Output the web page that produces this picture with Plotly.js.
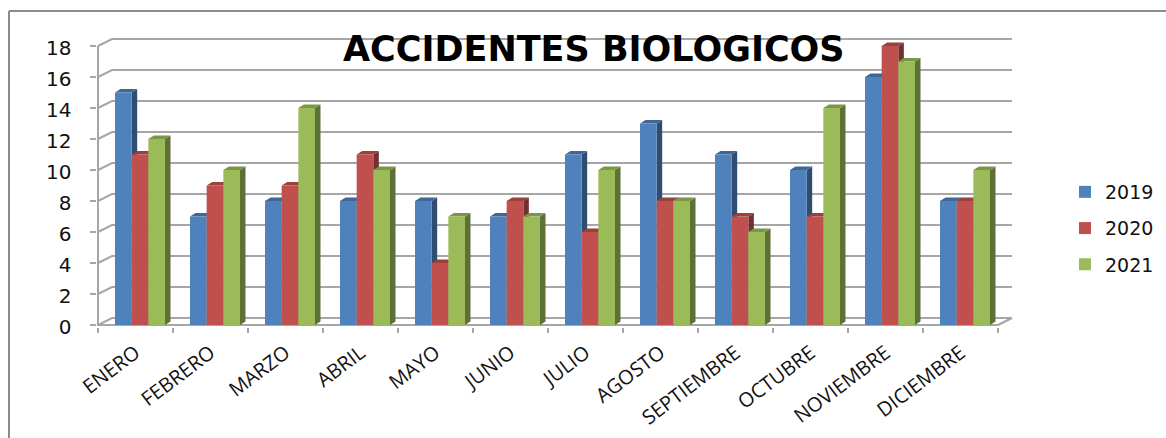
<!DOCTYPE html>
<html>
<head>
<meta charset="utf-8">
<script src="https://cdn.plot.ly/plotly-3.0.1.min.js"></script>
<style>html,body{margin:0;padding:0;background:#fff;overflow:hidden}#chart{width:1166px;height:438px}</style>
</head>
<body>
<div id="chart"></div>
<script>
const months = ["ENERO","FEBRERO","MARZO","ABRIL","MAYO","JUNIO","JULIO","AGOSTO","SEPTIEMBRE","OCTUBRE","NOVIEMBRE","DICIEMBRE"];
const v2019 = [15,7,8,8,8,7,11,13,11,10,16,8];
const v2020 = [11,9,9,11,4,8,6,8,7,7,18,8];
const v2021 = [12,10,14,10,7,7,10,8,6,14,17,10];
const seriesNames = ["2019","2020","2021"];
const yTicks = [0,2,4,6,8,10,12,14,16,18];

const W = 1166, H = 438;
const pxLeft = 98, pxRight = 998, pxTop = 46, pxBase = 325;
const unitX = (pxRight - pxLeft) / months.length;
const unitY = (pxBase - pxTop) / 18;
const frontColors = ["#4F81BD","#C0504D","#9BBB59"];
const topColors = ["#3F6797","#9A403D","#7C9647"];
const sideColors = ["#2F4D71","#733030","#5D7035"];
const gridColor = "#A6A6A6";

const wallDX = 14 / unitX, wallDY = 7 / unitY;
const depthDX = 5.5 / unitX, depthDY = 3.5 / unitY;
const barShift = 4.5 / unitX;
const barW = 16.67 / unitX;
const padX = 2 / unitX, padY = 2 / unitY;
const padL = 1.5 / unitX, padB = 1.5 / unitY;
const xMin = -0.5 - padL, xMax = 11.5 + wallDX + padX;
const yMin = -padB, yMax = 18 + wallDY + padY;

function polyTrace(xs, ys, color, name) {
  return {type:"scatter", mode:"lines", x:xs, y:ys, xaxis:"x2", yaxis:"y", fill:"toself", fillcolor:color,
    line:{width:0, color:color}, showlegend:false, hoverinfo:"skip", name:name};
}

// keeps the labelled category axis in its own subplot
const traces = [{type:"scatter", mode:"none", x:months, y:months.map(() => null), xaxis:"x", yaxis:"y",
  showlegend:false, hoverinfo:"skip", name:"axis"}];

// back wall and floor, drawn through the data scales
const gx = [], gy = [];
yTicks.forEach(t => {
  gx.push(-0.5, -0.5 + wallDX, 11.5 + wallDX, null);
  gy.push(t, t + wallDY, t + wallDY, null);
});
gx.push(11.5, 11.5 + wallDX, null);
gy.push(0, wallDY, null);
traces.push({type:"scatter", mode:"lines", x:gx, y:gy, xaxis:"x2", yaxis:"y",
  line:{color:gridColor, width:2}, showlegend:false, hoverinfo:"skip", name:"grid"});
// front axis lines
traces.push({type:"scatter", mode:"lines", x:[-0.5, -0.5, 11.5], y:[18, 0, 0], xaxis:"x2", yaxis:"y",
  line:{color:gridColor, width:2}, showlegend:false, hoverinfo:"skip", name:"axes"});

const allSeries = [v2019, v2020, v2021];
// depth faces
allSeries.forEach((vals, s) => {
  const tx = [], ty = [], sx = [], sy = [];
  vals.forEach((v, i) => {
    const l = i - 1.5 * barW + s * barW + barShift, r = l + barW;
    tx.push(l, r, r + depthDX, l + depthDX, l, null);
    ty.push(v, v, v + depthDY, v + depthDY, v, null);
    sx.push(r, r, r + depthDX, r + depthDX, r, null);
    sy.push(0, v, v + depthDY, depthDY, 0, null);
  });
  traces.push(polyTrace(sx, sy, sideColors[s], "side"));
  traces.push(polyTrace(tx, ty, topColors[s], "top"));
});
// front faces
allSeries.forEach((vals, s) => {
  traces.push({type:"bar", x:months, y:vals, name:seriesNames[s], xaxis:"x3", yaxis:"y",
    marker:{color:frontColors[s], line:{width:0}}, legendgroup:seriesNames[s], hoverinfo:"x+y+name"});
});

const xDomain = [(pxLeft + (xMin + 0.5) * unitX) / W, (pxRight + (xMax - 11.5) * unitX) / W];
const yDomain = [(H - pxBase + yMin * unitY) / H, (H - pxTop + (yMax - 18) * unitY) / H];

const layout = {
  width:W, height:H, margin:{l:0,r:0,t:0,b:0}, paper_bgcolor:"#fff", plot_bgcolor:"rgba(0,0,0,0)",
  barmode:"group", bargap:1 - 3 * barW, bargroupgap:0,
  font:{family:"DejaVu Sans", color:"#111"},
  xaxis:{domain:xDomain, type:"category", categoryorder:"array", categoryarray:months, tickmode:"array", tickvals:months, ticktext:months,
    range:[xMin, xMax], tickson:"boundaries", ticks:"outside", ticklen:5, tickwidth:2, tickcolor:gridColor, showline:false,
    showgrid:false, zeroline:false, tickangle:-37, ticklabelstandoff:10, tickfont:{family:"Open Sans", size:20, color:"#111"}, fixedrange:true},
  xaxis2:{overlaying:"x", type:"linear", range:[xMin, xMax], visible:false, fixedrange:true},
  xaxis3:{overlaying:"x", type:"category", categoryorder:"array", categoryarray:months, range:[xMin - barShift, xMax - barShift], visible:false, fixedrange:true},
  yaxis:{domain:yDomain, range:[yMin, yMax], tickmode:"array", tickvals:yTicks, ticks:"outside", ticklen:6, tickwidth:2, tickcolor:gridColor,
    showline:false, showgrid:false, zeroline:false, ticklabelstandoff:14, ticklabelshift:2, tickfont:{family:"DejaVu Sans", size:20, color:"#111"}, fixedrange:true},
  legend:{x:1065/W, y:(H-173)/H, xanchor:"left", yanchor:"top", font:{family:"DejaVu Sans", size:19, color:"#111"}, tracegroupgap:8.5, itemwidth:30, bgcolor:"rgba(0,0,0,0)"},
  annotations:[{text:"<b>ACCIDENTES BIOLOGICOS</b>", xref:"paper", yref:"paper", x:593.5/W, y:(H-49)/H, xanchor:"center", yanchor:"middle",
    showarrow:false, font:{family:"DejaVu Sans", size:35, color:"#000"}}],
  shapes:[
    {type:"line", xref:"paper", yref:"paper", x0:9/W, x1:1, y0:(H-11)/H, y1:(H-11)/H, line:{color:"#8C8C8C", width:2}},
    {type:"line", xref:"paper", yref:"paper", x0:9/W, x1:9/W, y0:(H-11)/H, y1:0, line:{color:"#8C8C8C", width:2}}
  ]
};
Plotly.newPlot("chart", traces, layout, {displayModeBar:false, responsive:false});
</script>
</body>
</html>
